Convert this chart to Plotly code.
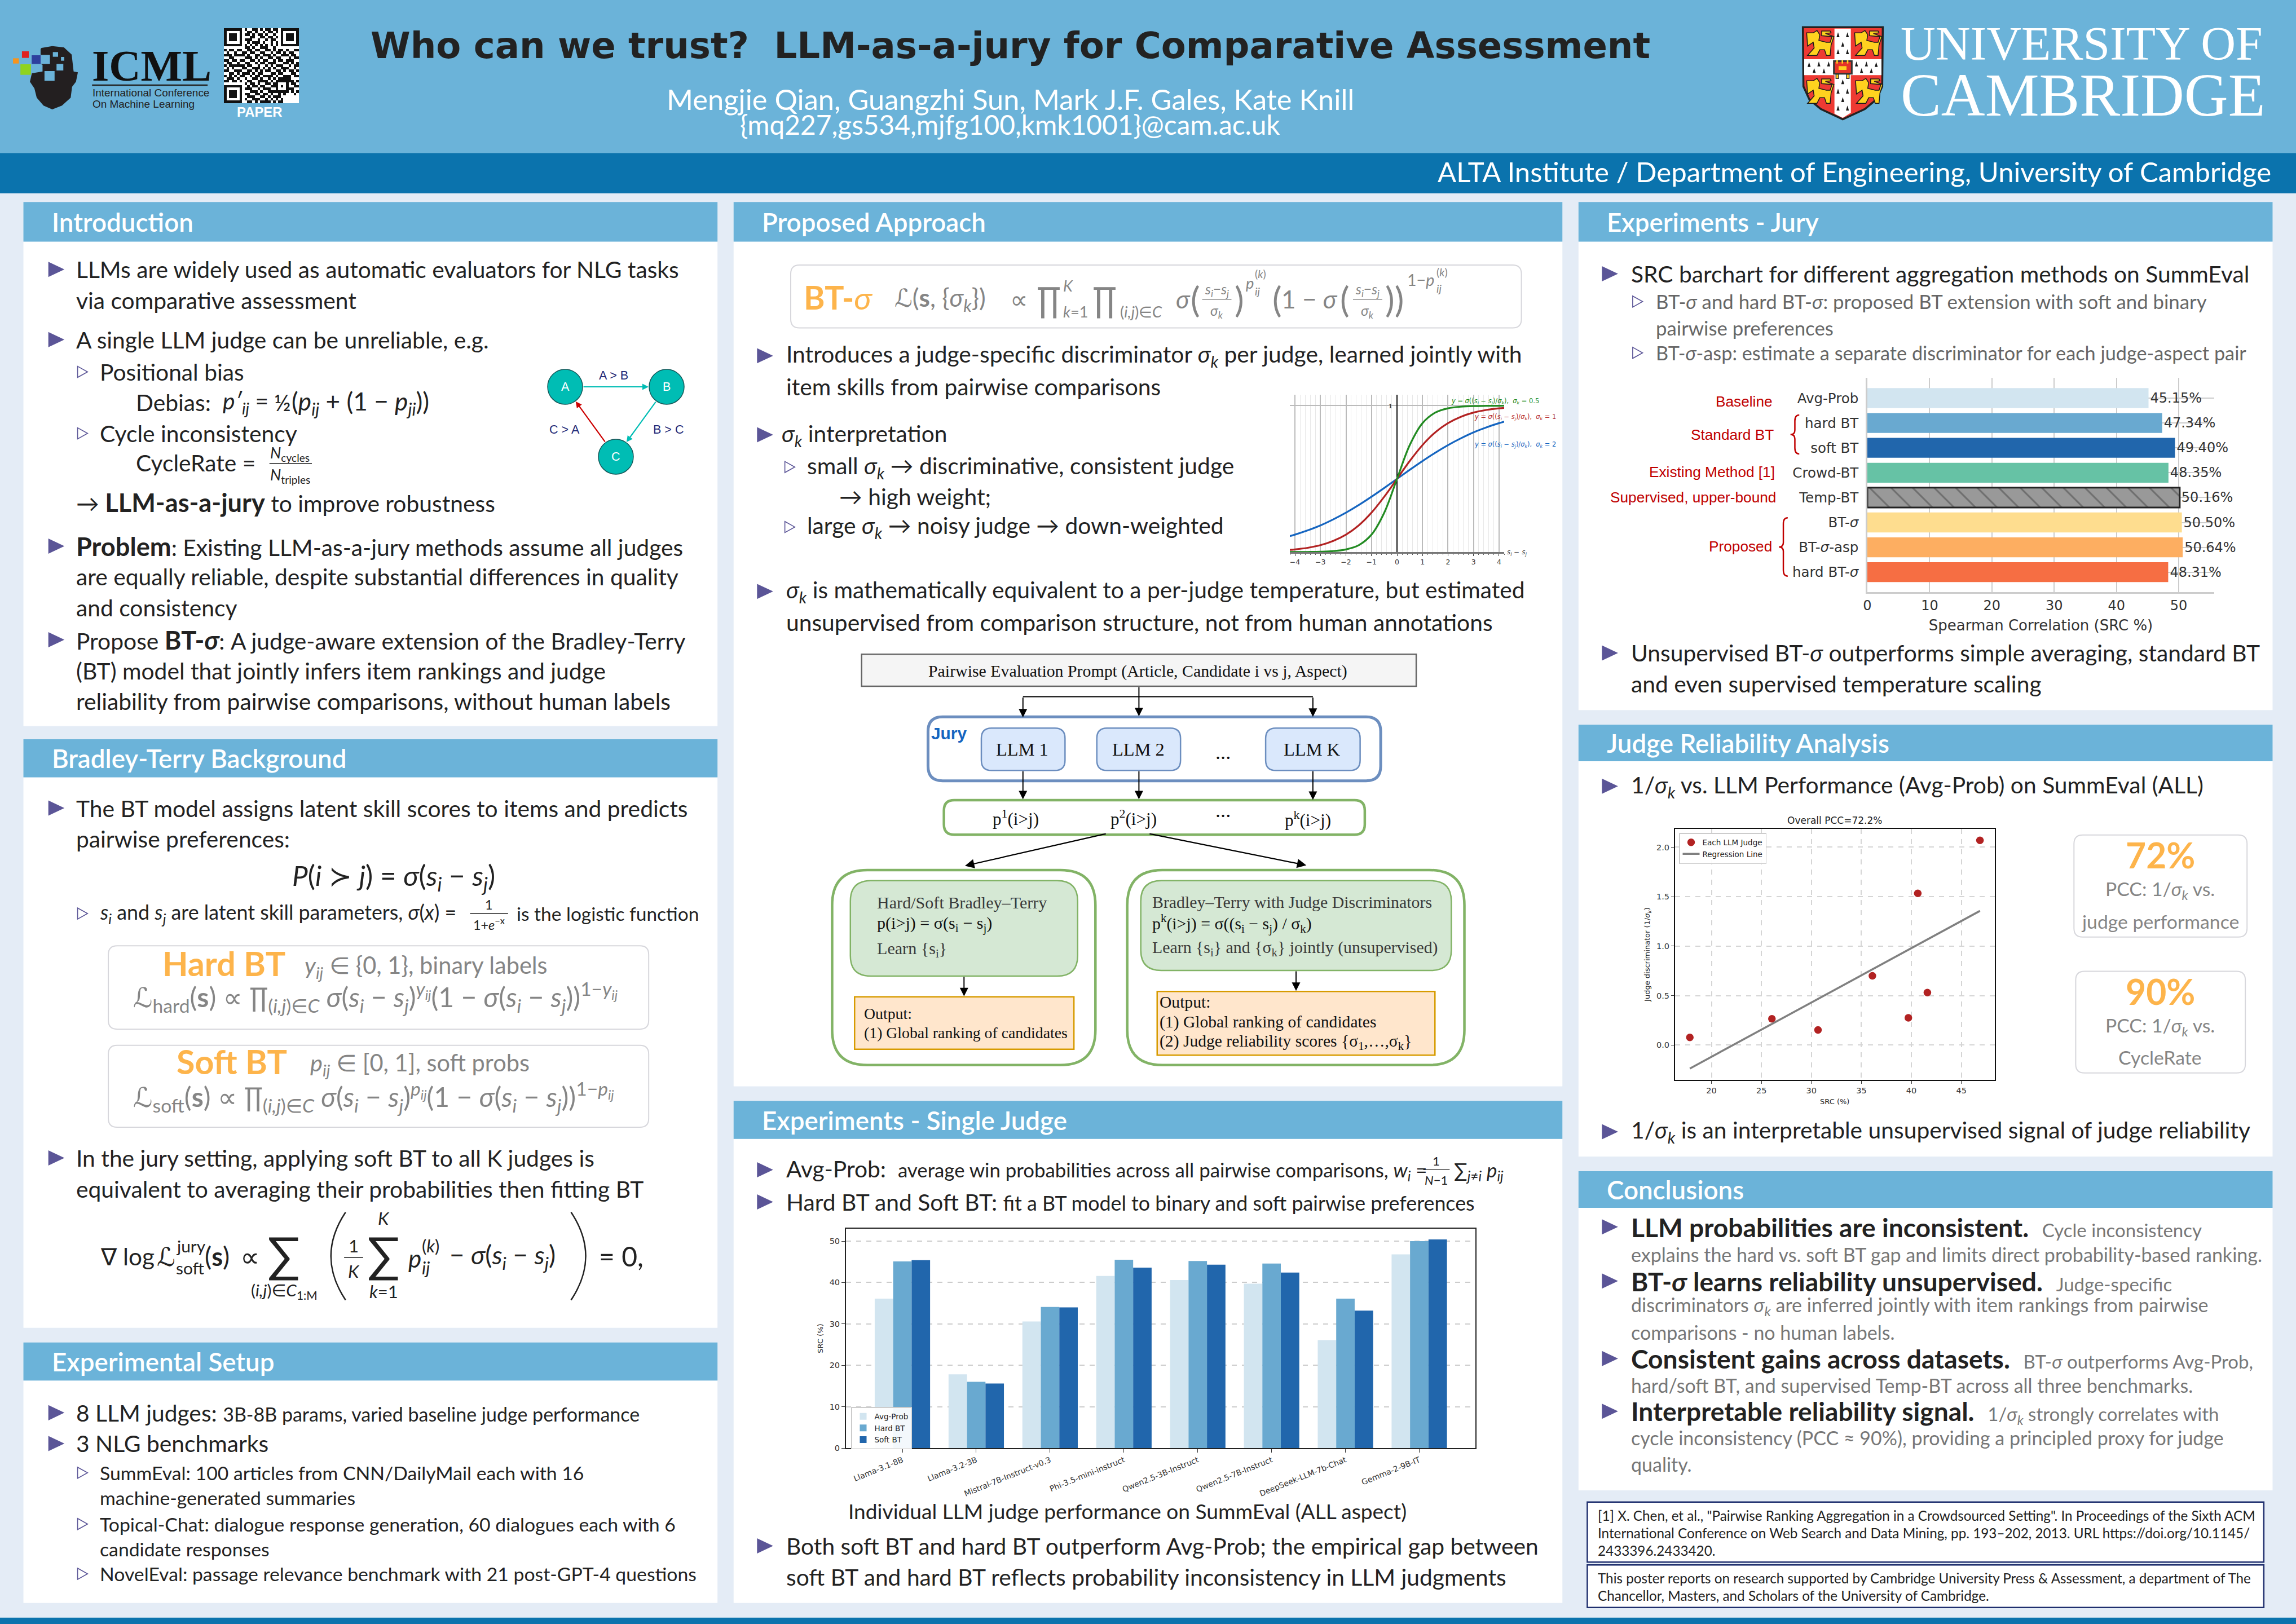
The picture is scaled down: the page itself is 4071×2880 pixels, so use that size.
import plotly.graph_objects as go

W, H = 4071, 2880
S = W / 1568
SANS = "Lato, 'DejaVu Sans'"
DJ = "'DejaVu Sans'"
SERIF = "'Liberation Serif'"
ARIAL = "'Liberation Sans'"

# ---------------- data ----------------
jury_methods = ["Avg-Prob", "hard BT", "soft BT", "Crowd-BT", "Temp-BT", "BT-<i>σ</i>", "BT-<i>σ</i>-asp", "hard BT-<i>σ</i>"]
jury_src = [45.15, 47.34, 49.40, 48.35, 50.16, 50.50, 50.64, 48.31]
jury_colors = ["#D2E5F0", "#69A9D0", "#2166AC", "#66C2A5", "#999999", "#FEDD8F", "#FDAE61", "#F66E43"]

judges = ["Llama-3.1-8B", "Llama-3.2-3B", "Mistral-7B-Instruct-v0.3", "Phi-3.5-mini-instruct",
          "Qwen2.5-3B-Instruct", "Qwen2.5-7B-Instruct", "DeepSeek-LLM-7b-Chat", "Gemma-2-9B-IT"]
avg_prob = [36.1, 17.8, 30.6, 41.6, 40.6, 39.7, 26.1, 46.8]
hard_bt = [45.1, 16.0, 34.1, 45.5, 45.2, 44.6, 36.1, 50.0]
soft_bt = [45.4, 15.6, 34.0, 43.6, 44.3, 42.4, 33.2, 50.4]

judge_src = [17.84, 26.05, 30.66, 36.1, 39.7, 40.64, 41.6, 46.86]
judge_disc = [0.077, 0.265, 0.153, 0.70, 0.275, 1.534, 0.53, 2.07]
reg_x = [17.84, 46.86]
reg_y = [-0.238, 1.356]

sig_x = [-4.2, -4, -3.5, -3, -2.5, -2, -1.5, -1, -.5, 0, .5, 1, 1.5, 2, 2.5, 3, 3.5, 4, 4.2]
sig_green = [.0002, .0003, .001, .0025, .0067, .018, .047, .119, .269, .5, .731, .881, .953, .982, .993, .9975, .999, .9997, .9998]
sig_red = [.015, .018, .029, .047, .076, .119, .182, .269, .378, .5, .622, .731, .818, .881, .924, .953, .971, .982, .985]
sig_blue = [.109, .119, .148, .182, .223, .269, .321, .378, .438, .5, .562, .622, .679, .731, .777, .818, .852, .881, .891]

qr_rows = [
 "11111110100110101101101111111",
 "10000010011010010110101000001",
 "10111010110101101001001011101",
 "10111010001100110110101011101",
 "10111010111001001011001011101",
 "10000010010111010010101000001",
 "11111110101010101010101111111",
 "00000000110100111001000000000",
 "10110110011011001101011010011",
 "01001001101100110010110101100",
 "11101111010011011101001110110",
 "00110000111010100110110001011",
 "11011011001101011001011011100",
 "01100100110010110111000110101",
 "10111111011001001010111001011",
 "01010001100111010101001110010",
 "11001110011010101100110101101",
 "00110101110101100011011000110",
 "10101011001011011110100111011",
 "01110100100110100101011111000",
 "11011010011001111010111111101",
 "00000000101101001101100010110",
 "11111110010110110011101010011",
 "10000010111001011100100011100",
 "10111010001110100111111110101",
 "10111010110011011010010100010",
 "10111010011100110101110000000",
 "10000010100111001010101000000",
 "11111110011010111101011000000",
]

NAVY = "#222222"
HDR = "#6BB3D9"
BAND = "#0B73AD"
PURP = "#5B5597"
GREY = "#858585"
ORANGE = "#FDB44B"
BODY = 15.7

shapes, annots = [], []

def px(x): return x / 1568
def py(y): return 1 - y / 1109.3

def rect(x0, y0, x1, y1, fill=None, line=None, lw=0, layer="below"):
    shapes.append(dict(type="rect", xref="paper", yref="paper", x0=px(x0), x1=px(x1), y0=py(y1), y1=py(y0),
                       fillcolor=fill or "rgba(0,0,0,0)", line=dict(color=line or "rgba(0,0,0,0)", width=lw), layer=layer))

def poly(pts, fill=None, line=None, lw=0, close=True, layer="above"):
    d = "M" + " L".join(f"{px(x):.5f},{py(y):.5f}" for x, y in pts) + (" Z" if close else "")
    shapes.append(dict(type="path", xref="paper", yref="paper", path=d, fillcolor=fill or "rgba(0,0,0,0)",
                       line=dict(color=line or "rgba(0,0,0,0)", width=lw), layer=layer))

def rrect(x0, y0, x1, y1, r, fill=None, line=None, lw=1, layer="above"):
    a, b, c, d = px(x0), px(x1), py(y0), py(y1)
    rx, ry = r / 1568, r / 1109.3
    p = (f"M{a+rx:.5f},{c:.5f} L{b-rx:.5f},{c:.5f} Q{b:.5f},{c:.5f} {b:.5f},{c-ry:.5f} "
         f"L{b:.5f},{d+ry:.5f} Q{b:.5f},{d:.5f} {b-rx:.5f},{d:.5f} L{a+rx:.5f},{d:.5f} "
         f"Q{a:.5f},{d:.5f} {a:.5f},{d+ry:.5f} L{a:.5f},{c-ry:.5f} Q{a:.5f},{c:.5f} {a+rx:.5f},{c:.5f} Z")
    shapes.append(dict(type="path", xref="paper", yref="paper", path=p, fillcolor=fill or "rgba(0,0,0,0)",
                       line=dict(color=line or "rgba(0,0,0,0)", width=lw), layer=layer))

def seg(x0, y0, x1, y1, color="#000", lw=2):
    shapes.append(dict(type="line", xref="paper", yref="paper", x0=px(x0), x1=px(x1), y0=py(y0), y1=py(y1),
                       line=dict(color=color, width=lw), layer="above"))

def curve(x0, y0, xc, yc, x1, y1, color="#222", lw=2.5):
    d = f"M{px(x0):.5f},{py(y0):.5f} Q{px(xc):.5f},{py(yc):.5f} {px(x1):.5f},{py(y1):.5f}"
    shapes.append(dict(type="path", xref="paper", yref="paper", path=d, line=dict(color=color, width=lw), layer="above"))

def T(x, y, s, size=BODY, color=NAVY, anchor="left", font=SANS, rot=0, weight=None):
    f = dict(family=font, size=size * S, color=color)
    if weight:
        f["weight"] = weight
    annots.append(dict(xref="paper", yref="paper", x=px(x), y=py(y), text=s, showarrow=False, xanchor=anchor,
                       yanchor="middle", borderpad=0, borderwidth=0, textangle=rot, font=f, align="left"))

def arrow(x0, y0, x1, y1, color="#000", lw=2, size=1.4):
    annots.append(dict(xref="paper", yref="paper", x=px(x1), y=py(y1), text="", showarrow=True, arrowhead=2,
                       arrowsize=size, arrowwidth=lw, arrowcolor=color, axref="pixel", ayref="pixel",
                       ax=(x0 - x1) * S, ay=(y0 - y1) * S, standoff=0))

def bullet(x, y):
    poly([(x, y - 5.2), (x + 11, y), (x, y + 5.2)], fill=PURP)

def sub_bullet(x, y):
    poly([(x, y - 3.8), (x + 6.8, y), (x, y + 3.8)], line=PURP, lw=1.6)

def panel(x0, x1, y0, y1, y2, title):
    rect(x0, y1, x1, y2, fill="white")
    rect(x0, y0, x1, y1, fill=HDR)
    T(x0 + 19.5, (y0 + y1) / 2, title, size=17.6, color="white", weight=600)

def card(x0, y0, x1, y1):
    rrect(x0, y0, x1, y1, 6, fill="white", line="#D7D7DC", lw=2, layer="below")

def brace(x, y0, y1, w=5, color="#C00000"):
    m = (y0 + y1) / 2
    a, b = px(x), px(x - w)
    d = (f"M{px(x + w):.5f},{py(y0):.5f} Q{a:.5f},{py(y0):.5f} {a:.5f},{py(y0 + 4):.5f} L{a:.5f},{py(m - 3):.5f} "
         f"Q{a:.5f},{py(m):.5f} {b:.5f},{py(m):.5f} Q{a:.5f},{py(m):.5f} {a:.5f},{py(m + 3):.5f} "
         f"L{a:.5f},{py(y1 - 4):.5f} Q{a:.5f},{py(y1):.5f} {px(x + w):.5f},{py(y1):.5f}")
    shapes.append(dict(type="path", xref="paper", yref="paper", path=d, line=dict(color=color, width=2.5), layer="above"))

def dom_x(a0, a1): return [a0 / W, a1 / W]
def dom_y(a0, a1): return [1 - a1 / H, 1 - a0 / H]
def A(v): return v / S

sk = "<i>σ<sub>k</sub></i>"
def small(s, size=13.4, color=None):
    c = f";color:{color}" if color else ""
    return f'<span style="font-size:{size * S:.1f}px{c}">{s}</span>'

# ---------------- header ----------------
rect(0, 0, 1568, 104.5, fill=HDR)
rect(0, 104.5, 1568, 132, fill=BAND)
rect(0, 1105, 1568, 1110, fill=BAND)
T(690, 31, "Who can we trust?  LLM-as-a-jury for Comparative Assessment", 24.7, "#222", "center", DJ, weight=600)
T(690, 67.5, "Mengjie Qian, Guangzhi Sun, Mark J.F. Gales, Kate Knill", 19.5, "white", "center", SANS)
T(690, 85, "{mq227,gs534,mjfg100,kmk1001}@cam.ac.uk", 18.4, "white", "center", SANS)
T(1551, 117, "ALTA Institute / Department of Engineering, University of Cambridge", 18.9, "white", "right", SANS)
T(1298, 30, "UNIVERSITY OF", 33, "white", "left", SERIF)
T(1298, 65, "CAMBRIDGE", 41.5, "white", "left", SERIF)

# ICML logo
def zi(zx, zy): return (A(10 + zx / 2.904), A(30 + zy / 3))
head = [(185,165),(240,155),(300,162),(340,200),(350,290),(372,295),(362,345),(342,372),(335,430),(290,472),(240,492),
        (195,472),(160,430),(148,380),(125,345),(135,300),(190,290),(190,255),(180,250),(180,170)]
poly([zi(*p) for p in head], fill="#231F20")
def zbox(a, b, c, d, col):
    x0, y0 = zi(a, b); x1, y1 = zi(c, d)
    rect(x0, y0, x1, y1, fill=col, layer="above")
for b in [(200,288,252,340),(262,250,297,285),(243,187,270,212),(285,213,302,233),(180,202,228,250)]:
    zbox(*b, HDR)
zbox(84,183,119,218,"#E02020"); zbox(134,204,180,250,"#2E3F9E"); zbox(38,220,68,248,"#F7941D"); zbox(76,252,130,308,"#8FD31F")
x_, y_ = zi(445, 260); T(x_, y_, "<b>ICML</b>", 30, "#111", "left", SERIF)
x0_, y0_ = zi(445, 363); x1_, _ = zi(1040, 363); seg(x0_, y0_, x1_, y0_, "#222", 2.5)
x_, y_ = zi(447, 405); T(x_, y_, "International Conference", 7.3, "#222", "left", ARIAL)
x_, y_ = zi(447, 465); T(x_, y_, "On Machine Learning", 7.3, "#222", "left", ARIAL)
x_, y_ = zi(1308, 505); T(x_, y_, "<b>PAPER</b>", 9.2, "white", "center", ARIAL)

# Cambridge crest
def zc(zx, zy): return (A(3180 + zx / 3), A(30 + zy / 3))
shield = [(50,55),(475,55),(472,370),(440,440),(380,490),(262,545),(145,490),(85,440),(53,370)]
poly([zc(*p) for p in shield], fill="#EE3A33", line="#222", lw=3.5)
poly([zc(*p) for p in [(218,62),(305,62),(305,225),(468,225),(468,310),(305,310),(305,510),(262,537),(218,515),(218,310),(57,310),(57,225),(218,225)]], fill="white")
lion = [(70,85),(105,85),(125,72),(140,95),(135,125),(175,135),(195,135),(205,105),(150,100),(150,75),(195,75),(200,85),(170,88),(215,105),(200,150),(195,205),(175,205),(165,175),(140,175),(125,205),(75,205),(110,165),(105,135),(75,155)]
for dx, dy in [(0, 0), (255, 0), (0, 255), (260, 255)]:
    poly([zc(x + dx, y + dy) for x, y in lion], fill="#FFD21F", line="#1a1a1a", lw=1.5)
for ex, ey in [(237,100),(287,100),(262,150),(237,190),(287,190),(83,258),(135,255),(187,255),(110,290),(162,292),(335,255),(388,255),(440,258),(362,290),(414,290),(262,350),(237,400),(287,400),(262,445),(237,490),(287,490)]:
    poly([zc(ex - 8, ey + 8), zc(ex + 8, ey + 8), zc(ex, ey - 18)], fill="#1a1a1a")
x0_, y0_ = zc(215, 235); x1_, y1_ = zc(310, 302); rect(x0_, y0_, x1_, y1_, fill="#E53329", line="#333", lw=3, layer="above")
for bx in (232, 260, 288):
    x0_, y0_ = zc(bx - 4, 230); x1_, y1_ = zc(bx + 4, 248); rect(x0_, y0_, x1_, y1_, fill="#FFD21F", layer="above")
for bx in (233, 289):
    x0_, y0_ = zc(bx - 7, 305); x1_, y1_ = zc(bx + 7, 328); rect(x0_, y0_, x1_, y1_, fill="#FFD21F", line="#333", lw=1.5, layer="above")
x0_, y0_ = zc(240, 262); x1_, y1_ = zc(282, 282); rect(x0_, y0_, x1_, y1_, fill="#FFD21F", layer="above")

# ---------------- panels ----------------
panel(16, 490, 138, 165, 496, "Introduction")
panel(16, 490, 505, 531, 907, "Bradley-Terry Background")
panel(16, 490, 917, 943, 1095, "Experimental Setup")
panel(501, 1067, 138, 165, 742, "Proposed Approach")
panel(501, 1067, 752, 778, 1095, "Experiments - Single Judge")
panel(1078, 1552, 138, 165, 485, "Experiments - Jury")
panel(1078, 1552, 495, 520, 790, "Judge Reliability Analysis")
panel(1078, 1552, 800, 825, 1018, "Conclusions")

# Introduction text
for y in (184, 232, 373, 437):
    bullet(33, y)
def bold(s, size=17.4): return small(f"<b>{s}</b>", size)
for y, s in [(184, "LLMs are widely used as automatic evaluators for NLG tasks"), (205, "via comparative assessment"),
             (232, "A single LLM judge can be unreliable, e.g."),
             (373, bold("Problem") + ": Existing LLM-as-a-jury methods assume all judges"),
             (394, "are equally reliable, despite substantial differences in quality"), (415, "and consistency"),
             (437, "Propose " + bold("BT-<i>σ</i>") + ": A judge-aware extension of the Bradley-Terry"),
             (458, "(BT) model that jointly infers item rankings and judge"),
             (479, "reliability from pairwise comparisons, without human labels")]:
    T(52, y, s)
sub_bullet(53, 254); sub_bullet(53, 296)
T(68, 254, "Positional bias"); T(68, 296, "Cycle inconsistency")
T(93, 275, "Debias:")
T(152, 275, "<i>p′<sub>ij</sub></i> =", 15.7)
T(187, 275, "½", 15.7)
T(199, 275, "(<i>p<sub>ij</sub></i> + (1 − <i>p<sub>ji</sub></i>))", 17)
T(93, 316, "CycleRate =")
T(198, 310, "<i>N</i><sub>cycles</sub>", 10.5, anchor="center"); seg(184, 316.5, 213, 316.5, "#222", 1.5)
T(198, 325, "<i>N</i><sub>triples</sub>", 10.5, anchor="center")
T(52, 343, "→ " + bold("LLM-as-a-jury") + " to improve robustness")

# Cycle triangle
def net(x, y): return A(x), A(y)
N = {"A": (1002, 686), "B": (1182, 686), "C": (1092, 810)}
for a, b, c in [("A", "B", "#00BDB4"), ("B", "C", "#00BDB4"), ("C", "A", "#CC0000")]:
    ax_, ay_ = N[a]; bx_, by_ = N[b]
    dx, dy = bx_ - ax_, by_ - ay_
    d = (dx * dx + dy * dy) ** .5
    arrow(A(ax_ + dx / d * 31), A(ay_ + dy / d * 31), A(bx_ - dx / d * 32), A(by_ - dy / d * 32), c, 2.2, 1)
for k, (cx, cy) in N.items():
    x0_, y0_ = net(cx - 31, cy - 31); x1_, y1_ = net(cx + 31, cy + 31)
    shapes.append(dict(type="circle", xref="paper", yref="paper", x0=px(x0_), x1=px(x1_), y0=py(y1_), y1=py(y0_),
                       fillcolor="#00BDB4", line=dict(color="#14595A", width=1.5), layer="above"))
    T(A(cx), A(cy), k, 8.3, "white", "center", ARIAL)
for xx, yy, s in [(1088, 666, "A &gt; B"), (1001, 762, "C &gt; A"), (1185, 762, "B &gt; C")]:
    T(A(xx), A(yy), s, 8.3, "#1F2A77", "center", ARIAL)

# BT background
bullet(33, 552); bullet(33, 791)
T(52, 552, "The BT model assigns latent skill scores to items and predicts")
T(52, 573, "pairwise preferences:")
T(269, 599, "<i>P</i>(<i>i</i> ≻ <i>j</i>) = <i>σ</i>(<i>s<sub>i</sub></i> − <i>s<sub>j</sub></i>)", 19, anchor="center")
sub_bullet(53, 624)
T(68, 624, "<i>s<sub>i</sub></i> and <i>s<sub>j</sub></i> are latent skill parameters, <i>σ</i>(<i>x</i>) =", 13.8)
T(334, 618, "1", 9, anchor="center"); seg(321, 624, 347, 624, "#222", 1.5); T(334, 631, "1+<i>e</i><sup>−x</sup>", 9, anchor="center")
T(353, 624, "is the logistic function", 12.9)
card(74, 646, 443, 703); card(74, 714, 443, 770)
T(111, 658, "<b>Hard BT</b>", 22.8, ORANGE)
T(208, 660, "<i>y<sub>ij</sub></i> ∈ {0, 1}, binary labels", 16, GREY)
T(91, 681, "ℒ<sub>hard</sub>(<b>s</b>) ∝ ∏<sub>(<i>i,j</i>)∈<i>C</i></sub> <i>σ</i>(<i>s<sub>i</sub></i> − <i>s<sub>j</sub></i>)<sup><i>y<sub>ij</sub></i></sup>(1 − <i>σ</i>(<i>s<sub>i</sub></i> − <i>s<sub>j</sub></i>))<sup>1−<i>y<sub>ij</sub></i></sup>", 18.5, GREY)
T(120.7, 725, "<b>Soft BT</b>", 22.8, ORANGE)
T(212, 727, "<i>p<sub>ij</sub></i> ∈ [0, 1], soft probs", 16, GREY)
T(91, 749, "ℒ<sub>soft</sub>(<b>s</b>) ∝ ∏<sub>(<i>i,j</i>)∈<i>C</i></sub> <i>σ</i>(<i>s<sub>i</sub></i> − <i>s<sub>j</sub></i>)<sup><i>p<sub>ij</sub></i></sup>(1 − <i>σ</i>(<i>s<sub>i</sub></i> − <i>s<sub>j</sub></i>))<sup>1−<i>p<sub>ij</sub></i></sup>", 18.5, GREY)
T(52, 791, "In the jury setting, applying soft BT to all K judges is")
T(52, 812, "equivalent to averaging their probabilities then fitting BT")
T(68.5, 858, "∇ log", 16.3)
T(107, 858, "ℒ", 17.5)
T(120, 851, "jury", 11.5); T(120, 866, "soft", 11.5)
T(140, 858, "(<b>s</b>)", 17.5)
T(164, 858, "∝", 18.5)
T(194, 856, "∑", 33, anchor="center"); T(194, 882, "(<i>i,j</i>)∈<i>C</i><sub>1:M</sub>", 11.5, anchor="center")
curve(236, 828, 216, 858, 236, 888)
T(241.6, 851, "1", 12, anchor="center"); seg(235, 859, 248, 859, "#222", 1.5); T(241.6, 868, "<i>K</i>", 12, anchor="center")
T(262, 856, "∑", 33, anchor="center"); T(262, 832, "<i>K</i>", 12, anchor="center"); T(262, 882, "<i>k</i>=1", 12, anchor="center")
T(279, 859, "<i>p</i>", 17); T(288, 851, "(<i>k</i>)", 12); T(288, 866, "<i>ij</i>", 12)
T(307, 858, "− <i>σ</i>(<i>s<sub>i</sub></i> − <i>s<sub>j</sub></i>)", 17.5)
curve(390, 828, 410, 858, 390, 888)
T(409, 858, "= 0,", 18.5)

# Setup
for y in (965, 986):
    bullet(33, y)
T(52, 965, "8 LLM judges: " + small("3B-8B params, varied baseline judge performance", 13.1))
T(52, 986, "3 NLG benchmarks")
for y in (1006, 1041, 1075):
    sub_bullet(53, y)
for y, x, s in [(1006, 68, "SummEval: 100 articles from CNN/DailyMail each with 16"), (1023, 68, "machine-generated summaries"),
                (1041, 68, "Topical-Chat: dialogue response generation, 60 dialogues each with 6"), (1058, 68, "candidate responses"),
                (1075, 68, "NovelEval: passage relevance benchmark with 21 post-GPT-4 questions")]:
    T(x, y, s, 13.0)

# Proposed approach
card(540, 181, 1039, 224)
T(549, 203, "<b>BT-</b><i>σ</i>", 22, ORANGE)
T(611, 204, "ℒ(<b>s</b>, {<i>σ<sub>k</sub></i>})", 17, GREY)
T(690, 204, "∝", 17, GREY)
T(708, 204, "∏", 24, GREY); T(726, 195, "<i>K</i>", 10.5, GREY); T(726, 213, "<i>k</i>=1", 10.5, GREY)
T(746, 204, "∏", 24, GREY); T(765, 213, "(<i>i,j</i>)∈<i>C</i>", 10.5, GREY)
T(803, 204, "<i>σ</i>", 17, GREY); T(813, 204, "(", 24, GREY)
T(831, 198, "<i>s<sub>i</sub>−s<sub>j</sub></i>", 9.5, GREY, "center"); seg(821, 204.4, 841, 204.4, GREY, 1.5); T(831, 213, sk, 9.5, GREY, "center")
T(843, 204, ")", 24, GREY)
T(851, 193, "<i>p</i>", 10.5, GREY); T(857, 187, "(<i>k</i>)", 7.5, GREY); T(857, 199, "<i>ij</i>", 7.5, GREY)
T(869, 204, "(", 24, GREY); T(875, 204, "1 − <i>σ</i>", 17, GREY); T(915, 204, "(", 24, GREY)
T(934, 198, "<i>s<sub>i</sub>−s<sub>j</sub></i>", 9.5, GREY, "center"); seg(924, 204.4, 944, 204.4, GREY, 1.5); T(934, 213, sk, 9.5, GREY, "center")
T(946, 204, "))", 24, GREY)
T(961, 191, "1−<i>p</i>", 11, GREY); T(981, 186, "(<i>k</i>)", 7.5, GREY); T(981, 197, "<i>ij</i>", 7.5, GREY)
for y in (243, 297, 404):
    bullet(517, y)
T(537, 243, f"Introduces a judge-specific discriminator {sk} per judge, learned jointly with")
T(537, 264, "item skills from pairwise comparisons")
T(534, 297, f"{sk} interpretation")
sub_bullet(536, 319); sub_bullet(536, 360)
T(551, 319, f"small {sk} → discriminative, consistent judge")
T(573, 339, "→ high weight;")
T(551, 360, f"large {sk} → noisy judge → down-weighted")
T(537, 404, f"{sk} is mathematically equivalent to a per-judge temperature, but estimated")
T(537, 425, "unsupervised from comparison structure, not from human annotations")

# Flow diagram
def zf(zx, zy): return (A(1400 + zx / 1.206), A(1140 + zy / 2.01))
def frr(a, b, c, d, r, fill, line, lw):
    x0_, y0_ = zf(a, b); x1_, y1_ = zf(c, d)
    rrect(x0_, y0_, x1_, y1_, r, fill=fill, line=line, lw=lw)
def fr(a, b, c, d, fill, line, lw):
    x0_, y0_ = zf(a, b); x1_, y1_ = zf(c, d)
    rect(x0_, y0_, x1_, y1_, fill=fill, line=line, lw=lw, layer="above")
def ft(zx, zy, s, size=11.5, color="#111", anchor="left", font=SERIF):
    x_, y_ = zf(zx, zy); T(x_, y_, s, size, color, anchor, font)
def fa(a, b, c, d, lw=2):
    x0_, y0_ = zf(a, b); x1_, y1_ = zf(c, d); arrow(x0_, y0_, x1_, y1_, "#000", lw, 1.5)
def fl(a, b, c, d, lw=2):
    x0_, y0_ = zf(a, b); x1_, y1_ = zf(c, d); seg(x0_, y0_, x1_, y1_, "#000", lw)

fr(154, 41, 1340, 155, "#F5F5F5", "#666", 2.5)
ft(745, 100, "Pairwise Evaluation Prompt (Article, Candidate i vs j, Aspect)", 11.5, anchor="center")
fl(499, 192, 1119, 192)
fa(747, 155, 747, 262); fa(499, 192, 499, 266); fa(1119, 192, 1119, 264)
frr(296, 264, 1264, 492, 10, "white", "#6C8EBF", 5)
ft(303, 322, "<b>Jury</b>", 11.5, "#1565C0", font=ARIAL)
frr(410, 304, 589, 455, 7, "#DAE8FC", "#6C8EBF", 2.5)
frr(657, 304, 836, 455, 7, "#DAE8FC", "#6C8EBF", 2.5)
frr(1018, 304, 1220, 455, 7, "#DAE8FC", "#6C8EBF", 2.5)
ft(497, 380, "LLM 1", 12.5, anchor="center"); ft(746, 380, "LLM 2", 12.5, anchor="center"); ft(1117, 380, "LLM K", 12.5, anchor="center")
ft(927, 390, "...", 14, anchor="center")
fa(499, 455, 499, 558); fa(747, 455, 747, 558); fa(1119, 455, 1119, 560)
frr(330, 561, 1230, 684, 7, "white", "#82B366", 4.5)
ft(484, 625, "p<sup>1</sup>(i&gt;j)", 12, anchor="center"); ft(736, 625, "p<sup>2</sup>(i&gt;j)", 12, anchor="center")
ft(927, 598, "...", 14, anchor="center"); ft(1108, 628, "p<sup>k</sup>(i&gt;j)", 12, anchor="center")
fa(678, 680, 375, 795, 2.2); fa(768, 680, 1105, 793, 2.2)
frr(91, 810, 654, 1505, 24, "white", "#82B366", 4.5)
frr(722, 810, 1443, 1505, 24, "white", "#82B366", 4.5)
frr(130, 848, 616, 1188, 14, "#D5E8D4", "#82B366", 2.5)
frr(751, 848, 1415, 1168, 14, "#D5E8D4", "#82B366", 2.5)
c_ = "#3a3a3a"
ft(187, 927, "Hard/Soft Bradley–Terry", 11.6, c_)
ft(187, 1003, "p(i&gt;j) = σ(s<sub>i</sub> − s<sub>j</sub>)", 11.6, "#111")
ft(187, 1093, "Learn {s<sub>i</sub>}", 11.6, c_)
ft(776, 924, "Bradley–Terry with Judge Discriminators", 11.5, c_)
ft(776, 1000, "p<sup>k</sup>(i&gt;j) = σ((s<sub>i</sub> − s<sub>j</sub>) / σ<sub>k</sub>)", 11.5, "#111")
ft(776, 1090, "Learn {s<sub>i</sub>} and {σ<sub>k</sub>} jointly (unsupervised)", 11.5, c_)
fa(373, 1188, 373, 1260); fa(1083, 1168, 1083, 1241)
fr(139, 1262, 608, 1449, "#FFE6CC", "#D79B00", 2.5)
fr(786, 1243, 1380, 1470, "#FFE6CC", "#D79B00", 2.5)
ft(159, 1322, "Output:", 10.7); ft(159, 1390, "(1) Global ranking of candidates", 10.7)
ft(791, 1280, "Output:", 11.4); ft(791, 1351, "(1) Global ranking of candidates", 11.4)
ft(791, 1423, "(2) Judge reliability scores {σ<sub>1</sub>,…,σ<sub>k</sub>}", 11.4)

# sigmoid labels
T(A(2573), A(712), "<i>y</i> = <i>σ</i>((<i>s<sub>i</sub></i> − <i>s<sub>j</sub></i>)/<i>σ<sub>k</sub></i>),  <i>σ<sub>k</sub></i> = 0.5", 4.4, "#228B22", font=DJ)
T(A(2614), A(740), "<i>y</i> = <i>σ</i>((<i>s<sub>i</sub></i> − <i>s<sub>j</sub></i>)/<i>σ<sub>k</sub></i>),  <i>σ<sub>k</sub></i> = 1", 4.4, "#B22222", font=DJ)
T(A(2614), A(789), "<i>y</i> = <i>σ</i>((<i>s<sub>i</sub></i> − <i>s<sub>j</sub></i>)/<i>σ<sub>k</sub></i>),  <i>σ<sub>k</sub></i> = 2", 4.4, "#1565C0", font=DJ)
T(A(2465), A(720), "<b>1</b>", 5, "#444", "center", SERIF)
T(A(2672), A(980), "<i>s<sub>i</sub></i> − <i>s<sub>j</sub></i>", 4.6, "#444", font=DJ)

# Single judge
bullet(517, 799); bullet(517, 821); bullet(517, 1056)
T(537, 799, "Avg-Prob:  " + small("average win probabilities across all pairwise comparisons, <i>w<sub>i</sub></i> = "))
T(981, 793, "1", 8.5, anchor="center"); seg(972, 799, 990, 799, "#222", 1.2); T(981, 806, "<i>N</i>−1", 8.5, anchor="center")
T(993, 800, "∑<sub><i>j</i>≠<i>i</i></sub> <i>p<sub>ij</sub></i>", 13.4)
T(537, 821, "Hard BT and Soft BT: " + small("fit a BT model to binary and soft pairwise preferences", 13.8))
T(770, 1032, "Individual LLM judge performance on SummEval (ALL aspect)", 14.3, anchor="center")
T(537, 1056, "Both soft BT and hard BT outperform Avg-Prob; the empirical gap between")
T(537, 1077, "soft BT and hard BT reflects probability inconsistency in LLM judgments")

# Jury text
for y in (187, 446, 537, 773):
    bullet(1094, y)
T(1114, 187, "SRC barchart for different aggregation methods on SummEval")
sub_bullet(1115, 206); sub_bullet(1115, 241)
T(1131, 206, "BT-<i>σ</i> and hard BT-<i>σ</i>: proposed BT extension with soft and binary", 13.4, "#666")
T(1131, 224, "pairwise preferences", 13.4, "#666")
T(1131, 241, "BT-<i>σ</i>-asp: estimate a separate discriminator for each judge-aspect pair", 13.2, "#666")
T(1114, 446, "Unsupervised BT-<i>σ</i> outperforms simple averaging, standard BT")
T(1114, 467, "and even supervised temperature scaling")
T(1114, 537, f"1/{sk} vs. LLM Performance (Avg-Prob) on SummEval (ALL)")
T(1114, 773, f"1/{sk} is an interpretable unsupervised signal of judge reliability")

# Red labels of jury chart
RED = "#C00000"
def zj(zx, zy): return (A(2780 + zx / 1.225), A(660 + zy / 3))
for zx, zy, s in [(445, 155, "Baseline"), (447, 333, "Standard BT"), (450, 532, "Existing Method [1]"),
                  (452, 667, "Supervised, upper-bound"), (443, 927, "Proposed")]:
    x_, y_ = zj(zx, zy); T(x_, y_, s, 10.1, RED, "right", ARIAL)
x_, y0_ = zj(493, 228); _, y1_ = zj(493, 435); brace(x_, y0_, y1_, 3)
x_, y0_ = zj(468, 775); _, y1_ = zj(468, 1085); brace(x_, y0_, y1_, 3)

# Stat cards
def zs(zx, zy): return (A(2860 + zx / 1.3067), A(1420 + zy / 2.8))
x0_, y0_ = zs(1068, 170); x1_, y1_ = zs(1469, 677); card(x0_, y0_, x1_, y1_)
x0_, y0_ = zs(1072, 847); x1_, y1_ = zs(1465, 1352); card(x0_, y0_, x1_, y1_)
for yy, big, last in [(270, "72%", "judge performance"), (947, "90%", "CycleRate")]:
    x_, y_ = zs(1268, yy); T(x_, y_, f"<b>{big}</b>", 24, ORANGE, "center")
    x_, y_ = zs(1268, yy + 175); T(x_, y_, f"PCC: 1/{sk} vs.", 13, GREY, "center")
    x_, y_ = zs(1268, yy + 328); T(x_, y_, last, 13, GREY, "center")

# Conclusions
for y in (838, 875, 928, 964):
    bullet(1094, y)
CG = "#777777"
for y, b, r in [(838, "LLM probabilities are inconsistent.", "Cycle inconsistency"),
                (875, "BT-<i>σ</i> learns reliability unsupervised.", "Judge-specific"),
                (928, "Consistent gains across datasets.", "BT-<i>σ</i> outperforms Avg-Prob,"),
                (964, "Interpretable reliability signal.", f"1/{sk} strongly correlates with")]:
    T(1114, y, f"<b>{b}</b>  " + small(r, 12.7, CG), 17.8)
for y, s in [(857, "explains the hard vs. soft BT gap and limits direct probability-based ranking."),
             (892, f"discriminators {sk} are inferred jointly with item rankings from pairwise"),
             (910, "comparisons - no human labels."),
             (946, "hard/soft BT, and supervised Temp-BT across all three benchmarks."),
             (982, "cycle inconsistency (PCC ≈ 90%), providing a principled proxy for judge"),
             (1000, "quality.")]:
    T(1114, y, s, 13.1, CG)

# Footer boxes
rect(1084, 1026, 1546, 1067, fill="white", line="#1F2F6E", lw=2.5, layer="below")
rect(1084, 1069, 1546, 1098, fill="white", line="#1F2F6E", lw=2.5, layer="below")
for y, s in [(1035, "[1] X. Chen, et al., \"Pairwise Ranking Aggregation in a Crowdsourced Setting\". In Proceedings of the Sixth ACM"),
             (1047, "International Conference on Web Search and Data Mining, pp. 193–202, 2013. URL https://doi.org/10.1145/"),
             (1059, "2433396.2433420."),
             (1078, "This poster reports on research supported by Cambridge University Press &amp; Assessment, a department of The"),
             (1090, "Chancellor, Masters, and Scholars of the University of Cambridge.")]:
    T(1091, y, s, 9.35, "#222")

annots.append(dict(xref="paper", yref="paper", x=3253 / W, y=1 - 1455 / H, text="Overall PCC=72.2%", showarrow=False, xanchor="center", yanchor="middle",
                   font=dict(family=DJ, size=17, color="#222")))

# ---------------- traces ----------------
fig = go.Figure()
# Jury bars
fig.add_trace(go.Bar(orientation="h", x=jury_src, y=jury_methods, xaxis="x", yaxis="y", width=0.8, showlegend=False,
                     marker=dict(color=jury_colors,
                                 line=dict(color=["rgba(0,0,0,0)"] * 4 + ["#222"] + ["rgba(0,0,0,0)"] * 3, width=[0, 0, 0, 0, 3, 0, 0, 0]),
                                 pattern=dict(shape=["", "", "", "", "\\", "", "", ""], fgcolor="#222", bgcolor="#999999", size=27, solidity=0.11)),
                     text=[f"{v:.2f}%" for v in jury_src], textposition="outside", cliponaxis=False,
                     textfont=dict(family=DJ, size=24, color="#333")))
# Grouped bars
for name, vals, col in [("Avg-Prob", avg_prob, "#D2E5F0"), ("Hard BT", hard_bt, "#69A9D0"), ("Soft BT", soft_bt, "#2166AC")]:
    fig.add_trace(go.Bar(x=judges, y=vals, name=name, xaxis="x2", yaxis="y2", marker=dict(color=col, line=dict(width=0)), legend="legend", width=0.25))
# Scatter
fig.add_trace(go.Scatter(x=judge_src, y=judge_disc, mode="markers", name="Each LLM Judge", xaxis="x3", yaxis="y3",
                         marker=dict(color="#B22222", size=13.5), legend="legend2", cliponaxis=False))
fig.add_trace(go.Scatter(x=reg_x, y=reg_y, mode="lines", name="Regression Line", xaxis="x3", yaxis="y3",
                         line=dict(color="#808080", width=3.5), legend="legend2"))
# Sigmoid
for vals, col in [(sig_blue, "#1565C0"), (sig_red, "#B22222"), (sig_green, "#228B22")]:
    fig.add_trace(go.Scatter(x=sig_x, y=vals, mode="lines", xaxis="x4", yaxis="y4", showlegend=False,
                             line=dict(color=col, width=3.2, shape="spline"), cliponaxis=False))
# QR
fig.add_trace(go.Heatmap(z=[[int(c) for c in r] for r in qr_rows], xaxis="x5", yaxis="y5", showscale=False, hoverinfo="skip",
                         colorscale=[[0, "white"], [1, "#111"]], zmin=0, zmax=1))

def tfont(sz): return dict(family=DJ, size=sz, color="#333")
lay = dict(
    width=W, height=H, margin=dict(l=0, r=0, t=0, b=0, pad=0, autoexpand=False), autosize=False, paper_bgcolor="#E4ECF6", plot_bgcolor="rgba(0,0,0,0)",
    shapes=shapes, annotations=annots, barmode="group", bargap=0.25, bargroupgap=0,
    xaxis=dict(domain=dom_x(3311, 3926), anchor="y", range=[0, 55.7], tickvals=[0, 10, 20, 30, 40, 50], showgrid=True, gridcolor="#CCCCCC",
               gridwidth=2, showline=True, linecolor="#CCCCCC", linewidth=3, ticks="", tickfont=tfont(24), zeroline=False,
               title=dict(text="Spearman Correlation (SRC %)", font=dict(family=DJ, size=26, color="#333"), standoff=14)),
    yaxis=dict(domain=dom_y(670, 1050), anchor="x", type="category", range=[7.8, -0.816], categoryorder="array", categoryarray=jury_methods,
               showgrid=True, gridcolor="#CCCCCC", gridwidth=2, showline=True, linecolor="#CCCCCC", linewidth=3, ticks="", tickfont=tfont(24.5), ticksuffix=" "),
    xaxis2=dict(domain=dom_x(1500, 2616), anchor="y2", range=[-0.764, 7.76], type="category", categoryorder="array", categoryarray=judges,
                tickangle=-22, tickfont=tfont(14), ticks="outside", ticklen=6, tickcolor="#333", showline=True, linecolor="#222", linewidth=2, mirror=True, showgrid=False),
    yaxis2=dict(domain=dom_y(2179, 2568), anchor="x2", range=[0, 53], tickvals=[0, 10, 20, 30, 40, 50], showgrid=True, gridcolor="#CCCCCC", griddash="dash",
                gridwidth=1.5, tickfont=tfont(14.5), ticks="outside", ticklen=6, tickcolor="#333", showline=True, linecolor="#222", linewidth=2, mirror=True, zeroline=False,
                title=dict(text="SRC (%)", font=dict(family=DJ, size=13, color="#222"), standoff=8)),
    xaxis3=dict(domain=dom_x(2970, 3536.5), anchor="y3", range=[16.36, 48.32], tickvals=[20, 25, 30, 35, 40, 45], showgrid=True, gridcolor="#D5D5D5", griddash="dash",
                gridwidth=1.5, tickfont=tfont(14.5), ticks="outside", ticklen=5, tickcolor="#333", showline=True, linecolor="#111", linewidth=2, mirror=True, zeroline=False,
                title=dict(text="SRC (%)", font=dict(family=DJ, size=13, color="#222"), standoff=8)),
    yaxis3=dict(domain=dom_y(1470, 1915), anchor="x3", range=[-0.352, 2.185], tickvals=[0, .5, 1, 1.5, 2], tickformat=".1f", showgrid=True, gridcolor="#D5D5D5", griddash="dash",
                gridwidth=1.5, tickfont=tfont(14.5), ticks="outside", ticklen=5, tickcolor="#333", showline=True, linecolor="#111", linewidth=2, mirror=True, zeroline=False,
                title=dict(text="Judge discriminator (1/<i>σ<sub>k</sub></i>)", font=dict(family=DJ, size=13, color="#222"), standoff=8)),
    xaxis4=dict(domain=dom_x(2287, 2667), anchor="y4", range=[-4.2, 4.2], tickvals=[-4, -3, -2, -1, 0, 1, 2, 3, 4], ticktext=["−4", "−3", "−2", "−1", "0", "1", "2", "3", "4"],
                showgrid=True, gridcolor="#BBBBBB", gridwidth=1.5, zeroline=True, zerolinecolor="#111", zerolinewidth=2, tickfont=tfont(12.5), ticks="outside", ticklen=4,
                tickcolor="#333", showline=True, linecolor="#777", linewidth=2.5,
                minor=dict(dtick=0.2, showgrid=True, gridcolor="#E8E8E8", gridwidth=1.2, ticks="outside", ticklen=2, tickcolor="#555")),
    yaxis4=dict(domain=dom_y(700, 979), anchor="x4", range=[0, 1.075], tickvals=[1], ticktext=[""], showgrid=True, gridcolor="#BBBBBB", gridwidth=1.5, zeroline=False, showline=False, ticks=""),
    xaxis5=dict(domain=dom_x(397, 530), anchor="y5", visible=False, constrain="domain"),
    yaxis5=dict(domain=dom_y(50, 183), anchor="x5", visible=False, autorange="reversed"),
    legend=dict(x=1509 / W, y=1 - 2495 / H, xanchor="left", yanchor="top", xref="paper", yref="paper", bgcolor="rgba(255,255,255,0.92)", bordercolor="#CCCCCC", borderwidth=1.5,
                font=dict(family=DJ, size=13.5, color="#222"), tracegroupgap=0, itemsizing="constant", traceorder="normal", itemwidth=30),
    legend2=dict(x=2977 / W, y=1 - 1477 / H, xanchor="left", yanchor="top", xref="paper", yref="paper", bgcolor="rgba(255,255,255,0.92)", bordercolor="#CCCCCC", borderwidth=1.5,
                 font=dict(family=DJ, size=13.5, color="#222"), itemwidth=30, traceorder="normal"),
)
fig.update_layout(**lay)
POST = """
document.documentElement.style.margin='0';document.documentElement.style.overflow='hidden';
document.body.style.margin='0';document.body.style.padding='0';document.body.style.overflow='hidden';
var gd=document.querySelector('.plotly-graph-div');
var wrap=gd.parentElement;wrap.style.margin='0';wrap.style.padding='0';
gd.style.position='fixed';gd.style.left='0';gd.style.top='0';gd.style.margin='0';
document.querySelectorAll('.svg-container').forEach(function(e){e.style.margin='0';});
"""
fig.write_html("out.html", post_script=POST, config=dict(displayModeBar=False))
